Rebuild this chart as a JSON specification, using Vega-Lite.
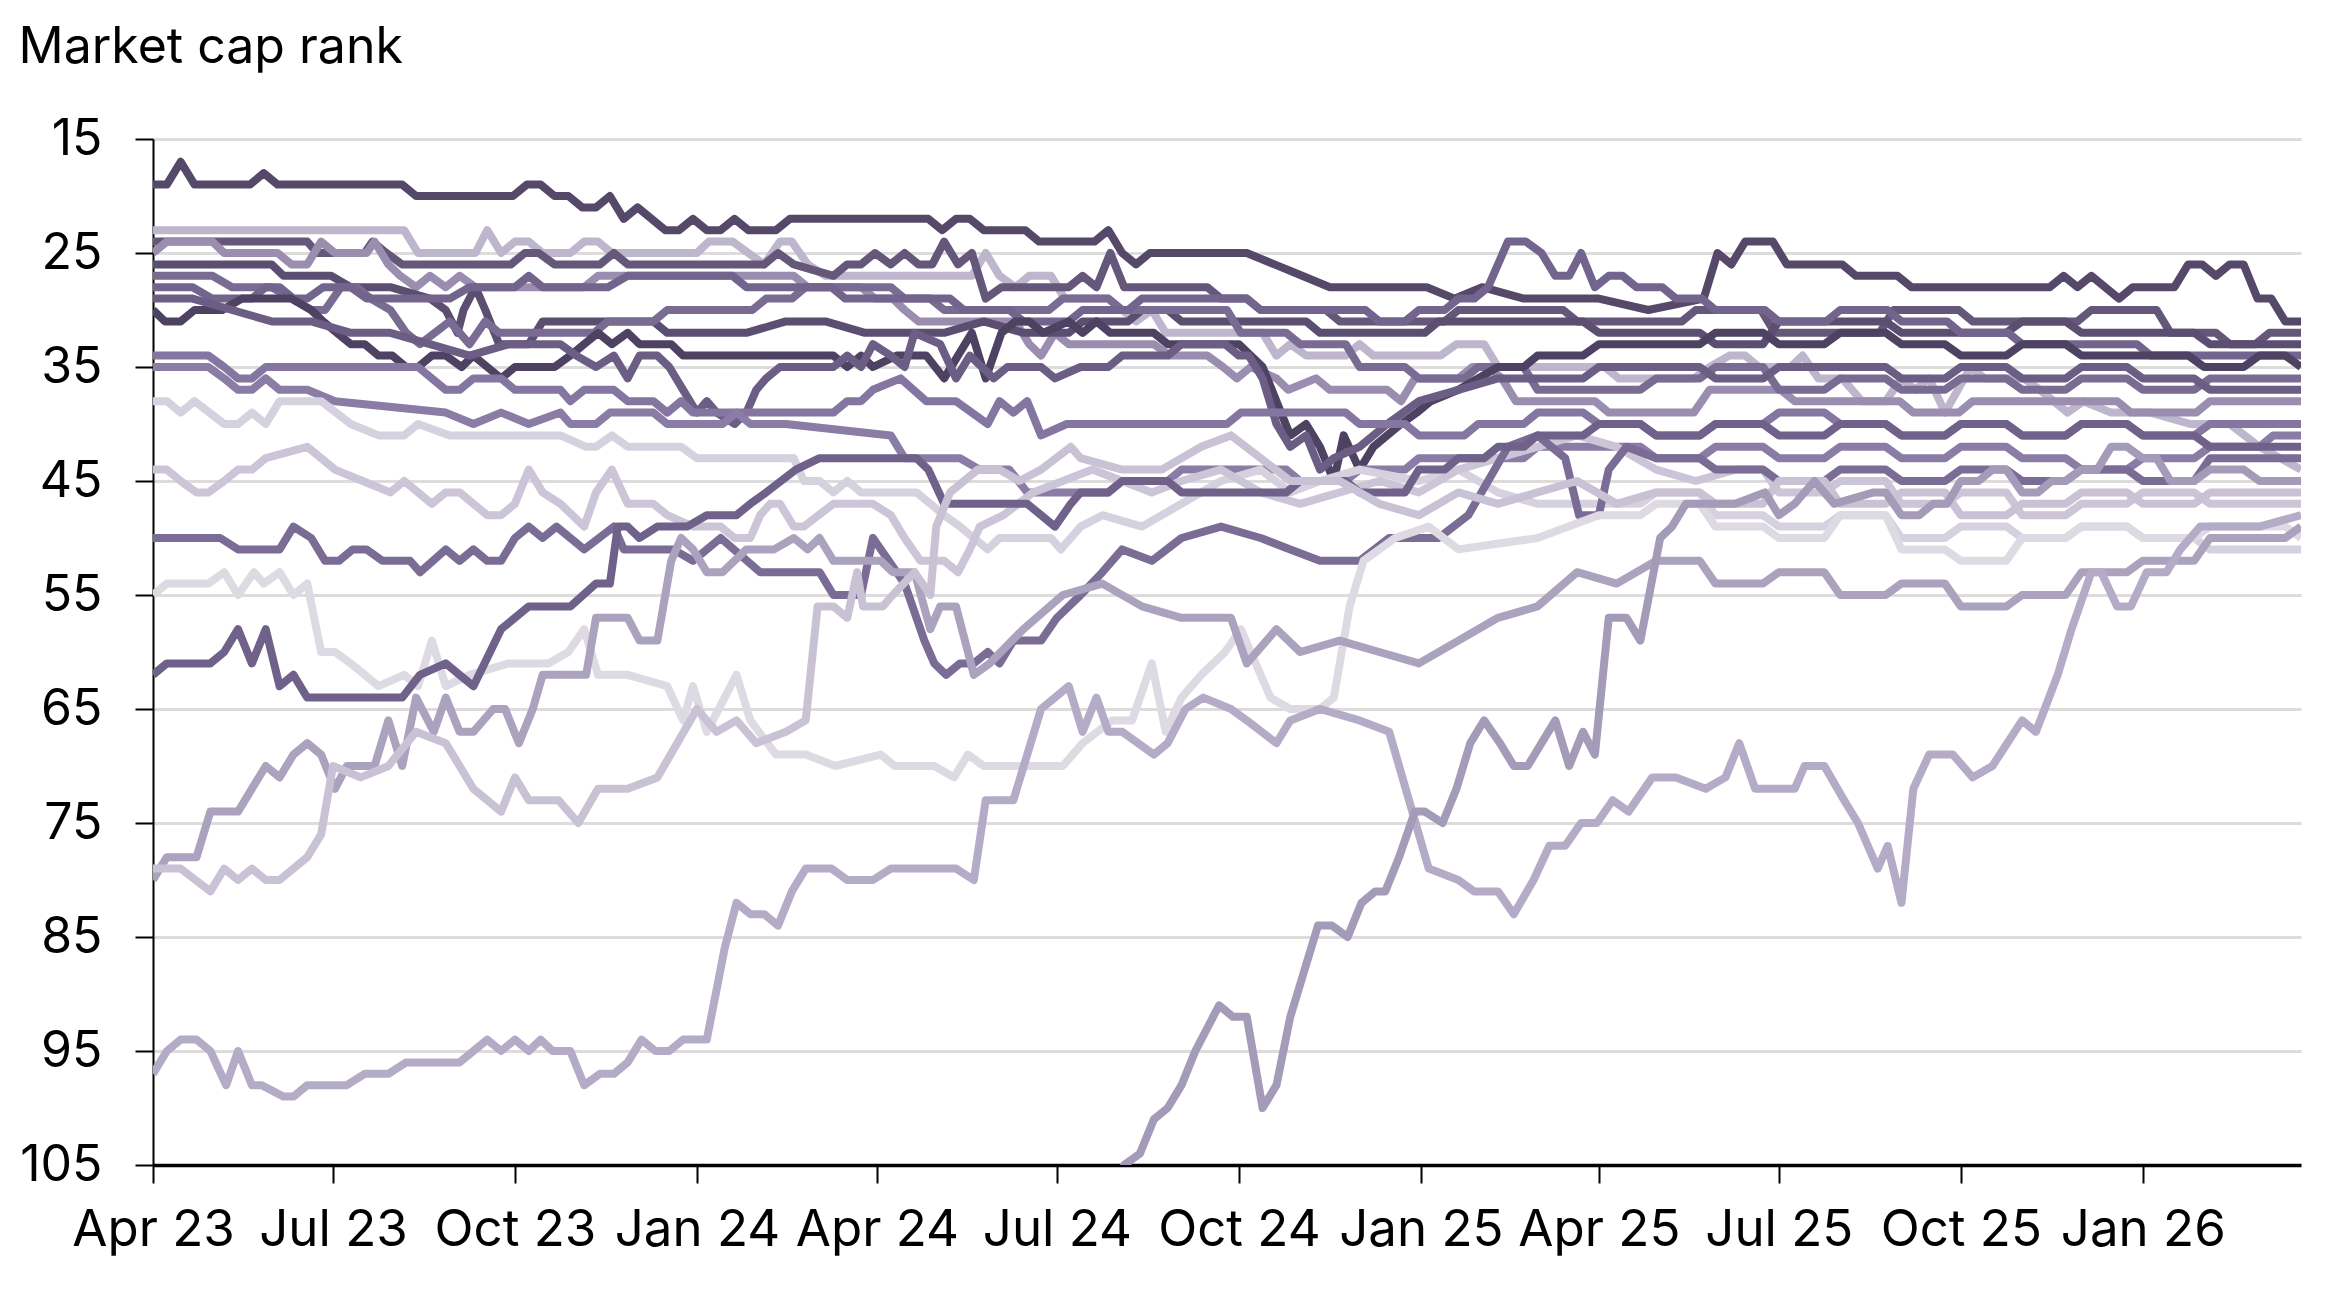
{
"$schema": "https://vega.github.io/schema/vega-lite/v6.json",
"width": 2148,
"height": 1026,
"autosize": {"type": "none"},
"padding": {"left": 153, "top": 139, "right": 38, "bottom": 134},
"background": "white",
"config": {"view": {"stroke": null}, "font": "Inter"},
"data": {"values": [
{"s":"a","t":"2023-04-01","r":19},{"s":"a","t":"2023-04-08","r":19},{"s":"a","t":"2023-04-15","r":17},{"s":"a","t":"2023-04-22","r":19},{"s":"a","t":"2023-05-20","r":19},{"s":"a","t":"2023-05-27","r":18},{"s":"a","t":"2023-06-03","r":19},{"s":"a","t":"2023-08-05","r":19},{"s":"a","t":"2023-08-12","r":20},{"s":"a","t":"2023-09-30","r":20},{"s":"a","t":"2023-10-07","r":19},{"s":"a","t":"2023-10-14","r":19},{"s":"a","t":"2023-10-21","r":20},{"s":"a","t":"2023-10-28","r":20},{"s":"a","t":"2023-11-04","r":21},{"s":"a","t":"2023-11-11","r":21},{"s":"a","t":"2023-11-18","r":20},{"s":"a","t":"2023-11-25","r":22},{"s":"a","t":"2023-12-02","r":21},{"s":"a","t":"2023-12-16","r":23},{"s":"a","t":"2023-12-23","r":23},{"s":"a","t":"2023-12-30","r":22},{"s":"a","t":"2024-01-06","r":23},{"s":"a","t":"2024-01-13","r":23},{"s":"a","t":"2024-01-20","r":22},{"s":"a","t":"2024-01-27","r":23},{"s":"a","t":"2024-02-10","r":23},{"s":"a","t":"2024-02-17","r":22},{"s":"a","t":"2024-04-27","r":22},{"s":"a","t":"2024-05-04","r":23},{"s":"a","t":"2024-05-11","r":22},{"s":"a","t":"2024-05-18","r":22},{"s":"a","t":"2024-05-25","r":23},{"s":"a","t":"2024-06-15","r":23},{"s":"a","t":"2024-06-22","r":24},{"s":"a","t":"2024-07-20","r":24},{"s":"a","t":"2024-07-27","r":23},{"s":"a","t":"2024-08-03","r":25},{"s":"a","t":"2024-08-10","r":26},{"s":"a","t":"2024-08-17","r":25},{"s":"a","t":"2024-10-05","r":25},{"s":"a","t":"2024-10-19","r":26},{"s":"a","t":"2024-11-02","r":27},{"s":"a","t":"2024-11-16","r":28},{"s":"a","t":"2025-01-04","r":28},{"s":"a","t":"2025-01-18","r":29},{"s":"a","t":"2025-02-01","r":28},{"s":"a","t":"2025-02-22","r":29},{"s":"a","t":"2025-04-01","r":29},{"s":"a","t":"2025-04-26","r":30},{"s":"a","t":"2025-05-24","r":29},{"s":"a","t":"2025-05-31","r":25},{"s":"a","t":"2025-06-07","r":26},{"s":"a","t":"2025-06-14","r":24},{"s":"a","t":"2025-06-28","r":24},{"s":"a","t":"2025-07-05","r":26},{"s":"a","t":"2025-08-02","r":26},{"s":"a","t":"2025-08-09","r":27},{"s":"a","t":"2025-08-30","r":27},{"s":"a","t":"2025-09-06","r":28},{"s":"a","t":"2025-11-15","r":28},{"s":"a","t":"2025-11-22","r":27},{"s":"a","t":"2025-11-29","r":28},{"s":"a","t":"2025-12-06","r":27},{"s":"a","t":"2025-12-20","r":29},{"s":"a","t":"2025-12-27","r":28},{"s":"a","t":"2026-01-17","r":28},{"s":"a","t":"2026-01-24","r":26},{"s":"a","t":"2026-01-31","r":26},{"s":"a","t":"2026-02-07","r":27},{"s":"a","t":"2026-02-14","r":26},{"s":"a","t":"2026-02-21","r":26},{"s":"a","t":"2026-02-28","r":29},{"s":"a","t":"2026-03-07","r":29},{"s":"a","t":"2026-03-14","r":31},{"s":"a","t":"2026-03-22","r":31},
{"s":"b","t":"2023-04-01","r":23},{"s":"b","t":"2023-08-06","r":23},{"s":"b","t":"2023-08-13","r":25},{"s":"b","t":"2023-09-11","r":25},{"s":"b","t":"2023-09-17","r":23},{"s":"b","t":"2023-09-24","r":25},{"s":"b","t":"2023-10-01","r":24},{"s":"b","t":"2023-10-08","r":24},{"s":"b","t":"2023-10-15","r":25},{"s":"b","t":"2023-10-29","r":25},{"s":"b","t":"2023-11-05","r":24},{"s":"b","t":"2023-11-12","r":24},{"s":"b","t":"2023-11-19","r":25},{"s":"b","t":"2024-01-01","r":25},{"s":"b","t":"2024-01-07","r":24},{"s":"b","t":"2024-01-19","r":24},{"s":"b","t":"2024-01-27","r":25},{"s":"b","t":"2024-02-04","r":26},{"s":"b","t":"2024-02-12","r":24},{"s":"b","t":"2024-02-18","r":24},{"s":"b","t":"2024-02-26","r":26},{"s":"b","t":"2024-03-06","r":27},{"s":"b","t":"2024-05-19","r":27},{"s":"b","t":"2024-05-26","r":25},{"s":"b","t":"2024-06-02","r":27},{"s":"b","t":"2024-06-10","r":28},{"s":"b","t":"2024-06-17","r":27},{"s":"b","t":"2024-06-28","r":27},{"s":"b","t":"2024-07-05","r":29},{"s":"b","t":"2024-07-27","r":29},{"s":"b","t":"2024-08-03","r":30},{"s":"b","t":"2024-08-10","r":31},{"s":"b","t":"2024-08-18","r":30},{"s":"b","t":"2024-08-25","r":32},{"s":"b","t":"2024-10-13","r":32},{"s":"b","t":"2024-10-20","r":34},{"s":"b","t":"2024-10-27","r":33},{"s":"b","t":"2024-11-04","r":34},{"s":"b","t":"2024-11-24","r":34},{"s":"b","t":"2024-12-01","r":33},{"s":"b","t":"2024-12-08","r":34},{"s":"b","t":"2025-01-11","r":34},{"s":"b","t":"2025-01-19","r":33},{"s":"b","t":"2025-02-02","r":33},{"s":"b","t":"2025-02-09","r":35},{"s":"b","t":"2025-04-04","r":35},{"s":"b","t":"2025-04-11","r":36},{"s":"b","t":"2025-05-19","r":36},{"s":"b","t":"2025-05-27","r":35},{"s":"b","t":"2025-06-06","r":34},{"s":"b","t":"2025-06-14","r":34},{"s":"b","t":"2025-06-21","r":35},{"s":"b","t":"2025-07-07","r":35},{"s":"b","t":"2025-07-13","r":34},{"s":"b","t":"2025-07-21","r":36},{"s":"b","t":"2025-08-02","r":36},{"s":"b","t":"2025-08-12","r":38},{"s":"b","t":"2025-08-24","r":38},{"s":"b","t":"2025-09-01","r":36},{"s":"b","t":"2025-09-08","r":37},{"s":"b","t":"2025-09-15","r":36},{"s":"b","t":"2025-09-23","r":39},{"s":"b","t":"2025-10-06","r":35},{"s":"b","t":"2025-10-13","r":36},{"s":"b","t":"2025-11-02","r":36},{"s":"b","t":"2025-11-10","r":37},{"s":"b","t":"2025-11-24","r":39},{"s":"b","t":"2025-12-02","r":38},{"s":"b","t":"2025-12-16","r":39},{"s":"b","t":"2026-01-05","r":39},{"s":"b","t":"2026-01-25","r":40},{"s":"b","t":"2026-02-14","r":40},{"s":"b","t":"2026-03-01","r":42},{"s":"b","t":"2026-03-22","r":44},
{"s":"c","t":"2023-04-01","r":24},{"s":"c","t":"2023-06-18","r":24},{"s":"c","t":"2023-06-23","r":25},{"s":"c","t":"2023-07-17","r":25},{"s":"c","t":"2023-07-21","r":24},{"s":"c","t":"2023-07-28","r":25},{"s":"c","t":"2023-08-05","r":26},{"s":"c","t":"2023-09-29","r":26},{"s":"c","t":"2023-10-06","r":25},{"s":"c","t":"2023-10-13","r":25},{"s":"c","t":"2023-10-21","r":26},{"s":"c","t":"2023-11-13","r":26},{"s":"c","t":"2023-11-20","r":25},{"s":"c","t":"2023-11-27","r":26},{"s":"c","t":"2024-02-04","r":26},{"s":"c","t":"2024-02-11","r":25},{"s":"c","t":"2024-02-19","r":26},{"s":"c","t":"2024-03-10","r":27},{"s":"c","t":"2024-03-17","r":26},{"s":"c","t":"2024-03-24","r":26},{"s":"c","t":"2024-03-31","r":25},{"s":"c","t":"2024-04-08","r":26},{"s":"c","t":"2024-04-15","r":25},{"s":"c","t":"2024-04-22","r":26},{"s":"c","t":"2024-04-29","r":26},{"s":"c","t":"2024-05-05","r":24},{"s":"c","t":"2024-05-12","r":26},{"s":"c","t":"2024-05-19","r":25},{"s":"c","t":"2024-05-26","r":29},{"s":"c","t":"2024-06-03","r":28},{"s":"c","t":"2024-07-07","r":28},{"s":"c","t":"2024-07-14","r":27},{"s":"c","t":"2024-07-21","r":28},{"s":"c","t":"2024-07-28","r":25},{"s":"c","t":"2024-08-04","r":28},{"s":"c","t":"2024-09-15","r":28},{"s":"c","t":"2024-09-22","r":29},{"s":"c","t":"2024-10-05","r":29},{"s":"c","t":"2024-10-12","r":30},{"s":"c","t":"2024-11-14","r":30},{"s":"c","t":"2024-11-21","r":31},{"s":"c","t":"2025-01-13","r":31},{"s":"c","t":"2025-01-20","r":30},{"s":"c","t":"2025-03-14","r":30},{"s":"c","t":"2025-03-21","r":31},{"s":"c","t":"2025-05-13","r":31},{"s":"c","t":"2025-05-20","r":30},{"s":"c","t":"2025-06-22","r":30},{"s":"c","t":"2025-06-29","r":32},{"s":"c","t":"2025-08-21","r":32},{"s":"c","t":"2025-08-28","r":30},{"s":"c","t":"2025-09-30","r":30},{"s":"c","t":"2025-10-07","r":31},{"s":"c","t":"2025-11-29","r":31},{"s":"c","t":"2025-12-06","r":30},{"s":"c","t":"2026-01-08","r":30},{"s":"c","t":"2026-01-15","r":32},{"s":"c","t":"2026-02-07","r":32},{"s":"c","t":"2026-02-14","r":33},{"s":"c","t":"2026-02-27","r":33},{"s":"c","t":"2026-03-06","r":32},{"s":"c","t":"2026-03-22","r":32},
{"s":"d","t":"2023-04-01","r":25},{"s":"d","t":"2023-04-08","r":24},{"s":"d","t":"2023-05-01","r":24},{"s":"d","t":"2023-05-07","r":25},{"s":"d","t":"2023-06-03","r":25},{"s":"d","t":"2023-06-10","r":26},{"s":"d","t":"2023-06-18","r":26},{"s":"d","t":"2023-06-25","r":24},{"s":"d","t":"2023-07-02","r":25},{"s":"d","t":"2023-07-18","r":25},{"s":"d","t":"2023-07-22","r":24},{"s":"d","t":"2023-07-29","r":26},{"s":"d","t":"2023-08-04","r":27},{"s":"d","t":"2023-08-12","r":28},{"s":"d","t":"2023-08-19","r":27},{"s":"d","t":"2023-08-27","r":28},{"s":"d","t":"2023-09-03","r":27},{"s":"d","t":"2023-09-11","r":28},{"s":"d","t":"2023-11-05","r":28},{"s":"d","t":"2023-11-12","r":27},{"s":"d","t":"2024-02-19","r":27},{"s":"d","t":"2024-02-26","r":28},{"s":"d","t":"2024-03-24","r":28},{"s":"d","t":"2024-03-31","r":29},{"s":"d","t":"2024-04-09","r":29},{"s":"d","t":"2024-04-15","r":30},{"s":"d","t":"2024-04-22","r":31},{"s":"d","t":"2024-06-10","r":31},{"s":"d","t":"2024-06-17","r":33},{"s":"d","t":"2024-06-23","r":34},{"s":"d","t":"2024-06-30","r":32},{"s":"d","t":"2024-07-07","r":33},{"s":"d","t":"2024-08-19","r":33},{"s":"d","t":"2024-08-27","r":34},{"s":"d","t":"2024-09-15","r":34},{"s":"d","t":"2024-09-23","r":35},{"s":"d","t":"2024-09-30","r":36},{"s":"d","t":"2024-10-07","r":35},{"s":"d","t":"2024-10-20","r":36},{"s":"d","t":"2024-10-26","r":37},{"s":"d","t":"2024-11-09","r":36},{"s":"d","t":"2024-11-16","r":37},{"s":"d","t":"2024-12-15","r":37},{"s":"d","t":"2024-12-22","r":38},{"s":"d","t":"2024-12-29","r":36},{"s":"d","t":"2025-01-20","r":36},{"s":"d","t":"2025-01-27","r":35},{"s":"d","t":"2025-02-04","r":35},{"s":"d","t":"2025-02-11","r":36},{"s":"d","t":"2025-02-18","r":38},{"s":"d","t":"2025-03-30","r":38},{"s":"d","t":"2025-04-06","r":39},{"s":"d","t":"2025-05-19","r":39},{"s":"d","t":"2025-05-27","r":37},{"s":"d","t":"2025-07-02","r":37},{"s":"d","t":"2025-07-09","r":38},{"s":"d","t":"2025-08-31","r":38},{"s":"d","t":"2025-09-07","r":39},{"s":"d","t":"2025-09-30","r":39},{"s":"d","t":"2025-10-07","r":38},{"s":"d","t":"2025-12-19","r":38},{"s":"d","t":"2025-12-26","r":39},{"s":"d","t":"2026-01-28","r":39},{"s":"d","t":"2026-02-04","r":38},{"s":"d","t":"2026-03-22","r":38},
{"s":"e","t":"2023-04-01","r":26},{"s":"e","t":"2023-05-31","r":26},{"s":"e","t":"2023-06-06","r":27},{"s":"e","t":"2023-06-30","r":27},{"s":"e","t":"2023-07-10","r":28},{"s":"e","t":"2023-07-30","r":28},{"s":"e","t":"2023-08-19","r":29},{"s":"e","t":"2023-08-27","r":30},{"s":"e","t":"2023-09-02","r":32},{"s":"e","t":"2023-09-05","r":30},{"s":"e","t":"2023-09-11","r":28},{"s":"e","t":"2023-09-16","r":30},{"s":"e","t":"2023-09-23","r":33},{"s":"e","t":"2023-10-08","r":33},{"s":"e","t":"2023-10-15","r":31},{"s":"e","t":"2023-12-10","r":31},{"s":"e","t":"2023-12-17","r":32},{"s":"e","t":"2024-01-26","r":32},{"s":"e","t":"2024-02-15","r":31},{"s":"e","t":"2024-03-06","r":31},{"s":"e","t":"2024-03-26","r":32},{"s":"e","t":"2024-05-05","r":32},{"s":"e","t":"2024-05-25","r":31},{"s":"e","t":"2024-06-14","r":32},{"s":"e","t":"2024-07-07","r":32},{"s":"e","t":"2024-07-14","r":31},{"s":"e","t":"2024-08-06","r":31},{"s":"e","t":"2024-08-13","r":30},{"s":"e","t":"2024-08-26","r":30},{"s":"e","t":"2024-09-02","r":31},{"s":"e","t":"2024-11-04","r":31},{"s":"e","t":"2024-11-11","r":32},{"s":"e","t":"2025-01-03","r":32},{"s":"e","t":"2025-01-10","r":31},{"s":"e","t":"2025-03-24","r":31},{"s":"e","t":"2025-04-01","r":32},{"s":"e","t":"2025-05-22","r":32},{"s":"e","t":"2025-05-30","r":33},{"s":"e","t":"2025-06-23","r":33},{"s":"e","t":"2025-07-01","r":31},{"s":"e","t":"2025-08-24","r":31},{"s":"e","t":"2025-09-01","r":32},{"s":"e","t":"2025-10-24","r":32},{"s":"e","t":"2025-11-01","r":31},{"s":"e","t":"2025-11-23","r":31},{"s":"e","t":"2025-12-01","r":32},{"s":"e","t":"2026-01-27","r":32},{"s":"e","t":"2026-02-04","r":33},{"s":"e","t":"2026-03-22","r":33},
{"s":"f","t":"2023-04-01","r":27},{"s":"f","t":"2023-05-01","r":27},{"s":"f","t":"2023-05-11","r":28},{"s":"f","t":"2023-05-31","r":28},{"s":"f","t":"2023-06-10","r":29},{"s":"f","t":"2023-06-20","r":30},{"s":"f","t":"2023-06-27","r":30},{"s":"f","t":"2023-07-05","r":28},{"s":"f","t":"2023-07-13","r":28},{"s":"f","t":"2023-07-20","r":29},{"s":"f","t":"2023-07-30","r":30},{"s":"f","t":"2023-08-07","r":32},{"s":"f","t":"2023-08-14","r":33},{"s":"f","t":"2023-08-29","r":31},{"s":"f","t":"2023-09-08","r":33},{"s":"f","t":"2023-09-16","r":31},{"s":"f","t":"2023-09-23","r":32},{"s":"f","t":"2023-11-10","r":32},{"s":"f","t":"2023-11-17","r":31},{"s":"f","t":"2023-12-10","r":31},{"s":"f","t":"2023-12-17","r":30},{"s":"f","t":"2024-01-29","r":30},{"s":"f","t":"2024-02-05","r":29},{"s":"f","t":"2024-02-18","r":29},{"s":"f","t":"2024-02-25","r":28},{"s":"f","t":"2024-04-08","r":28},{"s":"f","t":"2024-04-15","r":29},{"s":"f","t":"2024-04-28","r":29},{"s":"f","t":"2024-05-05","r":30},{"s":"f","t":"2024-06-27","r":30},{"s":"f","t":"2024-07-04","r":29},{"s":"f","t":"2024-07-27","r":29},{"s":"f","t":"2024-08-03","r":30},{"s":"f","t":"2024-09-25","r":30},{"s":"f","t":"2024-10-02","r":32},{"s":"f","t":"2024-10-25","r":32},{"s":"f","t":"2024-11-01","r":33},{"s":"f","t":"2024-11-24","r":33},{"s":"f","t":"2024-12-01","r":35},{"s":"f","t":"2024-12-24","r":35},{"s":"f","t":"2024-12-31","r":36},{"s":"f","t":"2025-01-23","r":36},{"s":"f","t":"2025-01-30","r":35},{"s":"f","t":"2025-02-22","r":35},{"s":"f","t":"2025-03-01","r":37},{"s":"f","t":"2025-04-22","r":37},{"s":"f","t":"2025-04-30","r":36},{"s":"f","t":"2025-05-22","r":36},{"s":"f","t":"2025-05-30","r":35},{"s":"f","t":"2025-06-23","r":35},{"s":"f","t":"2025-07-01","r":37},{"s":"f","t":"2025-07-24","r":37},{"s":"f","t":"2025-08-01","r":36},{"s":"f","t":"2025-08-24","r":36},{"s":"f","t":"2025-09-01","r":37},{"s":"f","t":"2025-09-23","r":37},{"s":"f","t":"2025-10-01","r":36},{"s":"f","t":"2025-10-24","r":36},{"s":"f","t":"2025-11-01","r":37},{"s":"f","t":"2025-11-23","r":37},{"s":"f","t":"2025-12-01","r":36},{"s":"f","t":"2025-12-24","r":36},{"s":"f","t":"2026-01-01","r":37},{"s":"f","t":"2026-01-27","r":37},{"s":"f","t":"2026-02-04","r":36},{"s":"f","t":"2026-03-22","r":36},
{"s":"g","t":"2023-04-01","r":28},{"s":"g","t":"2023-04-21","r":28},{"s":"g","t":"2023-05-01","r":29},{"s":"g","t":"2023-05-21","r":29},{"s":"g","t":"2023-05-28","r":28},{"s":"g","t":"2023-06-04","r":28},{"s":"g","t":"2023-06-11","r":29},{"s":"g","t":"2023-06-18","r":29},{"s":"g","t":"2023-06-26","r":28},{"s":"g","t":"2023-07-10","r":28},{"s":"g","t":"2023-07-18","r":29},{"s":"g","t":"2023-08-29","r":29},{"s":"g","t":"2023-09-08","r":28},{"s":"g","t":"2023-10-01","r":28},{"s":"g","t":"2023-10-08","r":27},{"s":"g","t":"2023-10-15","r":28},{"s":"g","t":"2023-11-17","r":28},{"s":"g","t":"2023-11-27","r":27},{"s":"g","t":"2024-01-19","r":27},{"s":"g","t":"2024-01-26","r":28},{"s":"g","t":"2024-03-09","r":28},{"s":"g","t":"2024-03-16","r":29},{"s":"g","t":"2024-05-08","r":29},{"s":"g","t":"2024-05-15","r":30},{"s":"g","t":"2024-06-07","r":30},{"s":"g","t":"2024-06-14","r":31},{"s":"g","t":"2024-07-07","r":31},{"s":"g","t":"2024-07-14","r":30},{"s":"g","t":"2024-08-06","r":30},{"s":"g","t":"2024-08-13","r":29},{"s":"g","t":"2024-10-05","r":29},{"s":"g","t":"2024-10-12","r":30},{"s":"g","t":"2024-12-04","r":30},{"s":"g","t":"2024-12-11","r":31},{"s":"g","t":"2024-12-24","r":31},{"s":"g","t":"2024-12-31","r":30},{"s":"g","t":"2025-01-13","r":30},{"s":"g","t":"2025-01-20","r":29},{"s":"g","t":"2025-01-28","r":29},{"s":"g","t":"2025-02-04","r":28},{"s":"g","t":"2025-02-14","r":24},{"s":"g","t":"2025-02-23","r":24},{"s":"g","t":"2025-03-03","r":25},{"s":"g","t":"2025-03-10","r":27},{"s":"g","t":"2025-03-17","r":27},{"s":"g","t":"2025-03-23","r":25},{"s":"g","t":"2025-03-30","r":28},{"s":"g","t":"2025-04-06","r":27},{"s":"g","t":"2025-04-13","r":27},{"s":"g","t":"2025-04-20","r":28},{"s":"g","t":"2025-05-03","r":28},{"s":"g","t":"2025-05-10","r":29},{"s":"g","t":"2025-05-23","r":29},{"s":"g","t":"2025-05-30","r":30},{"s":"g","t":"2025-06-24","r":30},{"s":"g","t":"2025-07-01","r":31},{"s":"g","t":"2025-07-25","r":31},{"s":"g","t":"2025-08-01","r":30},{"s":"g","t":"2025-08-25","r":30},{"s":"g","t":"2025-09-01","r":31},{"s":"g","t":"2025-09-24","r":31},{"s":"g","t":"2025-10-01","r":32},{"s":"g","t":"2025-10-25","r":32},{"s":"g","t":"2025-11-01","r":33},{"s":"g","t":"2025-12-29","r":33},{"s":"g","t":"2026-01-05","r":34},{"s":"g","t":"2026-03-22","r":34},
{"s":"h","t":"2023-04-01","r":30},{"s":"h","t":"2023-04-07","r":31},{"s":"h","t":"2023-04-15","r":31},{"s":"h","t":"2023-04-22","r":30},{"s":"h","t":"2023-05-06","r":30},{"s":"h","t":"2023-05-16","r":29},{"s":"h","t":"2023-06-10","r":29},{"s":"h","t":"2023-06-20","r":30},{"s":"h","t":"2023-06-26","r":31},{"s":"h","t":"2023-07-03","r":32},{"s":"h","t":"2023-07-10","r":33},{"s":"h","t":"2023-07-17","r":33},{"s":"h","t":"2023-07-24","r":34},{"s":"h","t":"2023-07-31","r":34},{"s":"h","t":"2023-08-07","r":35},{"s":"h","t":"2023-08-13","r":35},{"s":"h","t":"2023-08-20","r":34},{"s":"h","t":"2023-08-27","r":34},{"s":"h","t":"2023-09-04","r":35},{"s":"h","t":"2023-09-10","r":34},{"s":"h","t":"2023-09-17","r":35},{"s":"h","t":"2023-09-24","r":36},{"s":"h","t":"2023-10-01","r":35},{"s":"h","t":"2023-10-21","r":35},{"s":"h","t":"2023-10-29","r":34},{"s":"h","t":"2023-11-05","r":33},{"s":"h","t":"2023-11-12","r":32},{"s":"h","t":"2023-11-19","r":33},{"s":"h","t":"2023-11-27","r":32},{"s":"h","t":"2023-12-03","r":33},{"s":"h","t":"2023-12-19","r":33},{"s":"h","t":"2023-12-25","r":34},{"s":"h","t":"2024-03-10","r":34},{"s":"h","t":"2024-03-17","r":35},{"s":"h","t":"2024-03-24","r":34},{"s":"h","t":"2024-03-30","r":35},{"s":"h","t":"2024-04-11","r":34},{"s":"h","t":"2024-04-26","r":34},{"s":"h","t":"2024-05-05","r":36},{"s":"h","t":"2024-05-12","r":34},{"s":"h","t":"2024-05-19","r":32},{"s":"h","t":"2024-05-26","r":36},{"s":"h","t":"2024-06-03","r":32},{"s":"h","t":"2024-06-10","r":31},{"s":"h","t":"2024-06-17","r":31},{"s":"h","t":"2024-06-24","r":32},{"s":"h","t":"2024-07-07","r":31},{"s":"h","t":"2024-07-14","r":32},{"s":"h","t":"2024-07-21","r":31},{"s":"h","t":"2024-07-28","r":32},{"s":"h","t":"2024-08-19","r":32},{"s":"h","t":"2024-08-26","r":33},{"s":"h","t":"2024-10-01","r":33},{"s":"h","t":"2024-10-13","r":35},{"s":"h","t":"2024-10-20","r":38},{"s":"h","t":"2024-10-27","r":41},{"s":"h","t":"2024-11-04","r":40},{"s":"h","t":"2024-11-11","r":42},{"s":"h","t":"2024-11-18","r":45},{"s":"h","t":"2024-11-23","r":41},{"s":"h","t":"2024-12-01","r":44},{"s":"h","t":"2024-12-08","r":42},{"s":"h","t":"2024-12-15","r":41},{"s":"h","t":"2024-12-22","r":40},{"s":"h","t":"2024-12-30","r":39},{"s":"h","t":"2025-01-06","r":38},{"s":"h","t":"2025-01-20","r":37},{"s":"h","t":"2025-02-09","r":35},{"s":"h","t":"2025-02-22","r":35},{"s":"h","t":"2025-03-01","r":34},{"s":"h","t":"2025-03-24","r":34},{"s":"h","t":"2025-04-01","r":33},{"s":"h","t":"2025-05-22","r":33},{"s":"h","t":"2025-05-30","r":32},{"s":"h","t":"2025-06-23","r":32},{"s":"h","t":"2025-07-01","r":33},{"s":"h","t":"2025-07-24","r":33},{"s":"h","t":"2025-08-01","r":32},{"s":"h","t":"2025-08-24","r":32},{"s":"h","t":"2025-09-01","r":33},{"s":"h","t":"2025-09-23","r":33},{"s":"h","t":"2025-10-01","r":34},{"s":"h","t":"2025-10-24","r":34},{"s":"h","t":"2025-11-01","r":33},{"s":"h","t":"2025-11-23","r":33},{"s":"h","t":"2025-12-01","r":34},{"s":"h","t":"2026-01-24","r":34},{"s":"h","t":"2026-02-01","r":35},{"s":"h","t":"2026-02-21","r":35},{"s":"h","t":"2026-03-01","r":34},{"s":"h","t":"2026-03-14","r":34},{"s":"h","t":"2026-03-22","r":35},
{"s":"i","t":"2023-04-01","r":29},{"s":"i","t":"2023-04-21","r":29},{"s":"i","t":"2023-05-11","r":30},{"s":"i","t":"2023-05-31","r":31},{"s":"i","t":"2023-06-20","r":31},{"s":"i","t":"2023-07-10","r":32},{"s":"i","t":"2023-07-30","r":32},{"s":"i","t":"2023-08-19","r":33},{"s":"i","t":"2023-09-08","r":34},{"s":"i","t":"2023-09-28","r":33},{"s":"i","t":"2023-10-24","r":33},{"s":"i","t":"2023-11-01","r":34},{"s":"i","t":"2023-11-11","r":35},{"s":"i","t":"2023-11-20","r":34},{"s":"i","t":"2023-11-27","r":36},{"s":"i","t":"2023-12-03","r":34},{"s":"i","t":"2023-12-12","r":34},{"s":"i","t":"2023-12-18","r":35},{"s":"i","t":"2023-12-25","r":37},{"s":"i","t":"2024-01-01","r":39},{"s":"i","t":"2024-01-06","r":38},{"s":"i","t":"2024-01-11","r":39},{"s":"i","t":"2024-01-20","r":40},{"s":"i","t":"2024-01-26","r":39},{"s":"i","t":"2024-01-31","r":37},{"s":"i","t":"2024-02-05","r":36},{"s":"i","t":"2024-02-12","r":35},{"s":"i","t":"2024-03-10","r":35},{"s":"i","t":"2024-03-17","r":34},{"s":"i","t":"2024-03-24","r":35},{"s":"i","t":"2024-03-30","r":33},{"s":"i","t":"2024-04-08","r":34},{"s":"i","t":"2024-04-15","r":35},{"s":"i","t":"2024-04-20","r":32},{"s":"i","t":"2024-05-03","r":33},{"s":"i","t":"2024-05-11","r":36},{"s":"i","t":"2024-05-18","r":34},{"s":"i","t":"2024-05-30","r":36},{"s":"i","t":"2024-06-06","r":35},{"s":"i","t":"2024-06-23","r":35},{"s":"i","t":"2024-06-30","r":36},{"s":"i","t":"2024-07-13","r":35},{"s":"i","t":"2024-07-27","r":35},{"s":"i","t":"2024-08-03","r":34},{"s":"i","t":"2024-08-26","r":34},{"s":"i","t":"2024-09-02","r":33},{"s":"i","t":"2024-09-24","r":33},{"s":"i","t":"2024-10-01","r":34},{"s":"i","t":"2024-10-06","r":34},{"s":"i","t":"2024-10-13","r":36},{"s":"i","t":"2024-10-20","r":40},{"s":"i","t":"2024-10-27","r":42},{"s":"i","t":"2024-11-04","r":41},{"s":"i","t":"2024-11-11","r":44},{"s":"i","t":"2024-11-18","r":43},{"s":"i","t":"2024-12-01","r":42},{"s":"i","t":"2024-12-15","r":40},{"s":"i","t":"2024-12-31","r":38},{"s":"i","t":"2025-01-20","r":37},{"s":"i","t":"2025-02-09","r":36},{"s":"i","t":"2025-03-24","r":36},{"s":"i","t":"2025-04-01","r":35},{"s":"i","t":"2025-05-22","r":35},{"s":"i","t":"2025-05-30","r":36},{"s":"i","t":"2025-06-23","r":36},{"s":"i","t":"2025-07-01","r":35},{"s":"i","t":"2025-08-24","r":35},{"s":"i","t":"2025-09-01","r":36},{"s":"i","t":"2025-09-23","r":36},{"s":"i","t":"2025-10-01","r":35},{"s":"i","t":"2025-10-24","r":35},{"s":"i","t":"2025-11-01","r":36},{"s":"i","t":"2025-11-23","r":36},{"s":"i","t":"2025-12-01","r":35},{"s":"i","t":"2025-12-24","r":35},{"s":"i","t":"2026-01-01","r":36},{"s":"i","t":"2026-01-27","r":36},{"s":"i","t":"2026-02-04","r":37},{"s":"i","t":"2026-03-22","r":37},
{"s":"j","t":"2023-04-01","r":34},{"s":"j","t":"2023-04-29","r":34},{"s":"j","t":"2023-05-07","r":35},{"s":"j","t":"2023-05-14","r":36},{"s":"j","t":"2023-05-21","r":36},{"s":"j","t":"2023-05-28","r":35},{"s":"j","t":"2023-06-04","r":35},{"s":"j","t":"2023-08-13","r":35},{"s":"j","t":"2023-08-27","r":37},{"s":"j","t":"2023-09-03","r":37},{"s":"j","t":"2023-09-10","r":36},{"s":"j","t":"2023-09-24","r":36},{"s":"j","t":"2023-10-01","r":37},{"s":"j","t":"2023-10-24","r":37},{"s":"j","t":"2023-10-29","r":38},{"s":"j","t":"2023-11-05","r":37},{"s":"j","t":"2023-11-20","r":37},{"s":"j","t":"2023-11-27","r":38},{"s":"j","t":"2023-12-10","r":38},{"s":"j","t":"2023-12-17","r":39},{"s":"j","t":"2023-12-24","r":38},{"s":"j","t":"2023-12-30","r":39},{"s":"j","t":"2024-02-02","r":39},{"s":"j","t":"2024-03-10","r":39},{"s":"j","t":"2024-03-17","r":38},{"s":"j","t":"2024-03-24","r":38},{"s":"j","t":"2024-03-30","r":37},{"s":"j","t":"2024-04-13","r":36},{"s":"j","t":"2024-04-26","r":38},{"s":"j","t":"2024-05-11","r":38},{"s":"j","t":"2024-05-27","r":40},{"s":"j","t":"2024-06-02","r":38},{"s":"j","t":"2024-06-09","r":39},{"s":"j","t":"2024-06-16","r":38},{"s":"j","t":"2024-06-23","r":41},{"s":"j","t":"2024-07-06","r":40},{"s":"j","t":"2024-09-25","r":40},{"s":"j","t":"2024-10-02","r":39},{"s":"j","t":"2024-11-24","r":39},{"s":"j","t":"2024-12-01","r":40},{"s":"j","t":"2024-12-24","r":40},{"s":"j","t":"2024-12-31","r":41},{"s":"j","t":"2025-01-23","r":41},{"s":"j","t":"2025-01-30","r":40},{"s":"j","t":"2025-02-22","r":40},{"s":"j","t":"2025-03-01","r":39},{"s":"j","t":"2025-03-24","r":39},{"s":"j","t":"2025-04-01","r":40},{"s":"j","t":"2025-04-22","r":40},{"s":"j","t":"2025-04-30","r":41},{"s":"j","t":"2025-05-22","r":41},{"s":"j","t":"2025-05-30","r":40},{"s":"j","t":"2025-06-23","r":40},{"s":"j","t":"2025-07-01","r":39},{"s":"j","t":"2025-07-24","r":39},{"s":"j","t":"2025-08-01","r":40},{"s":"j","t":"2025-08-24","r":40},{"s":"j","t":"2025-09-01","r":41},{"s":"j","t":"2025-09-23","r":41},{"s":"j","t":"2025-10-01","r":40},{"s":"j","t":"2025-10-24","r":40},{"s":"j","t":"2025-11-01","r":41},{"s":"j","t":"2025-11-23","r":41},{"s":"j","t":"2025-12-01","r":40},{"s":"j","t":"2025-12-24","r":40},{"s":"j","t":"2026-01-01","r":41},{"s":"j","t":"2026-01-27","r":41},{"s":"j","t":"2026-02-04","r":40},{"s":"j","t":"2026-03-22","r":40},
{"s":"k","t":"2023-04-01","r":35},{"s":"k","t":"2023-04-29","r":35},{"s":"k","t":"2023-05-07","r":36},{"s":"k","t":"2023-05-14","r":37},{"s":"k","t":"2023-05-21","r":37},{"s":"k","t":"2023-05-28","r":36},{"s":"k","t":"2023-06-04","r":37},{"s":"k","t":"2023-06-18","r":37},{"s":"k","t":"2023-07-02","r":38},{"s":"k","t":"2023-08-27","r":39},{"s":"k","t":"2023-09-10","r":40},{"s":"k","t":"2023-09-24","r":39},{"s":"k","t":"2023-10-08","r":40},{"s":"k","t":"2023-10-24","r":39},{"s":"k","t":"2023-10-29","r":40},{"s":"k","t":"2023-11-11","r":40},{"s":"k","t":"2023-11-18","r":39},{"s":"k","t":"2023-12-10","r":39},{"s":"k","t":"2023-12-17","r":40},{"s":"k","t":"2024-01-14","r":40},{"s":"k","t":"2024-01-21","r":39},{"s":"k","t":"2024-01-28","r":40},{"s":"k","t":"2024-02-15","r":40},{"s":"k","t":"2024-04-08","r":41},{"s":"k","t":"2024-04-15","r":43},{"s":"k","t":"2024-05-13","r":43},{"s":"k","t":"2024-05-23","r":44},{"s":"k","t":"2024-06-07","r":44},{"s":"k","t":"2024-06-16","r":46},{"s":"k","t":"2024-07-27","r":46},{"s":"k","t":"2024-08-03","r":45},{"s":"k","t":"2024-08-26","r":45},{"s":"k","t":"2024-09-02","r":44},{"s":"k","t":"2024-10-25","r":44},{"s":"k","t":"2024-11-01","r":45},{"s":"k","t":"2024-11-24","r":45},{"s":"k","t":"2024-12-01","r":44},{"s":"k","t":"2024-12-24","r":44},{"s":"k","t":"2024-12-31","r":43},{"s":"k","t":"2025-02-22","r":43},{"s":"k","t":"2025-03-01","r":42},{"s":"k","t":"2025-04-22","r":42},{"s":"k","t":"2025-04-30","r":43},{"s":"k","t":"2025-05-22","r":43},{"s":"k","t":"2025-05-30","r":42},{"s":"k","t":"2025-06-23","r":42},{"s":"k","t":"2025-07-01","r":43},{"s":"k","t":"2025-07-24","r":43},{"s":"k","t":"2025-08-01","r":42},{"s":"k","t":"2025-08-24","r":42},{"s":"k","t":"2025-09-01","r":43},{"s":"k","t":"2025-09-23","r":43},{"s":"k","t":"2025-10-01","r":42},{"s":"k","t":"2025-10-24","r":42},{"s":"k","t":"2025-11-01","r":43},{"s":"k","t":"2025-11-23","r":43},{"s":"k","t":"2025-12-01","r":44},{"s":"k","t":"2025-12-24","r":44},{"s":"k","t":"2026-01-01","r":43},{"s":"k","t":"2026-01-27","r":43},{"s":"k","t":"2026-02-04","r":42},{"s":"k","t":"2026-03-01","r":42},{"s":"k","t":"2026-03-08","r":41},{"s":"k","t":"2026-03-22","r":41},
{"s":"l","t":"2023-04-01","r":38},{"s":"l","t":"2023-04-08","r":38},{"s":"l","t":"2023-04-15","r":39},{"s":"l","t":"2023-04-22","r":38},{"s":"l","t":"2023-05-07","r":40},{"s":"l","t":"2023-05-14","r":40},{"s":"l","t":"2023-05-21","r":39},{"s":"l","t":"2023-05-28","r":40},{"s":"l","t":"2023-06-04","r":38},{"s":"l","t":"2023-06-25","r":38},{"s":"l","t":"2023-07-10","r":40},{"s":"l","t":"2023-07-24","r":41},{"s":"l","t":"2023-08-06","r":41},{"s":"l","t":"2023-08-13","r":40},{"s":"l","t":"2023-08-29","r":41},{"s":"l","t":"2023-10-24","r":41},{"s":"l","t":"2023-11-06","r":42},{"s":"l","t":"2023-11-11","r":42},{"s":"l","t":"2023-11-19","r":41},{"s":"l","t":"2023-11-27","r":42},{"s":"l","t":"2023-12-24","r":42},{"s":"l","t":"2024-01-01","r":43},{"s":"l","t":"2024-02-19","r":43},{"s":"l","t":"2024-02-24","r":45},{"s":"l","t":"2024-03-03","r":45},{"s":"l","t":"2024-03-10","r":46},{"s":"l","t":"2024-03-17","r":45},{"s":"l","t":"2024-03-24","r":46},{"s":"l","t":"2024-04-21","r":46},{"s":"l","t":"2024-05-05","r":48},{"s":"l","t":"2024-05-13","r":49},{"s":"l","t":"2024-05-20","r":50},{"s":"l","t":"2024-05-27","r":51},{"s":"l","t":"2024-06-02","r":50},{"s":"l","t":"2024-06-28","r":50},{"s":"l","t":"2024-07-03","r":51},{"s":"l","t":"2024-07-13","r":49},{"s":"l","t":"2024-07-24","r":48},{"s":"l","t":"2024-08-13","r":49},{"s":"l","t":"2024-09-02","r":47},{"s":"l","t":"2024-09-22","r":45},{"s":"l","t":"2024-10-12","r":44},{"s":"l","t":"2024-10-27","r":46},{"s":"l","t":"2024-11-11","r":45},{"s":"l","t":"2024-12-01","r":44},{"s":"l","t":"2024-12-31","r":45},{"s":"l","t":"2025-01-20","r":44},{"s":"l","t":"2025-02-09","r":46},{"s":"l","t":"2025-03-01","r":47},{"s":"l","t":"2025-04-22","r":47},{"s":"l","t":"2025-04-30","r":46},{"s":"l","t":"2025-05-22","r":46},{"s":"l","t":"2025-05-30","r":48},{"s":"l","t":"2025-06-23","r":48},{"s":"l","t":"2025-07-01","r":49},{"s":"l","t":"2025-07-24","r":49},{"s":"l","t":"2025-08-01","r":48},{"s":"l","t":"2025-08-24","r":48},{"s":"l","t":"2025-09-01","r":50},{"s":"l","t":"2025-09-23","r":50},{"s":"l","t":"2025-10-01","r":49},{"s":"l","t":"2025-10-24","r":49},{"s":"l","t":"2025-11-01","r":50},{"s":"l","t":"2025-11-23","r":50},{"s":"l","t":"2025-12-01","r":49},{"s":"l","t":"2025-12-24","r":49},{"s":"l","t":"2026-01-01","r":50},{"s":"l","t":"2026-01-27","r":50},{"s":"l","t":"2026-02-04","r":51},{"s":"l","t":"2026-03-22","r":51},
{"s":"m","t":"2023-04-01","r":44},{"s":"m","t":"2023-04-08","r":44},{"s":"m","t":"2023-04-15","r":45},{"s":"m","t":"2023-04-23","r":46},{"s":"m","t":"2023-04-29","r":46},{"s":"m","t":"2023-05-07","r":45},{"s":"m","t":"2023-05-14","r":44},{"s":"m","t":"2023-05-21","r":44},{"s":"m","t":"2023-05-28","r":43},{"s":"m","t":"2023-06-18","r":42},{"s":"m","t":"2023-06-25","r":43},{"s":"m","t":"2023-07-02","r":44},{"s":"m","t":"2023-07-16","r":45},{"s":"m","t":"2023-07-30","r":46},{"s":"m","t":"2023-08-06","r":45},{"s":"m","t":"2023-08-13","r":46},{"s":"m","t":"2023-08-20","r":47},{"s":"m","t":"2023-08-27","r":46},{"s":"m","t":"2023-09-03","r":46},{"s":"m","t":"2023-09-10","r":47},{"s":"m","t":"2023-09-17","r":48},{"s":"m","t":"2023-09-24","r":48},{"s":"m","t":"2023-10-01","r":47},{"s":"m","t":"2023-10-08","r":44},{"s":"m","t":"2023-10-15","r":46},{"s":"m","t":"2023-10-24","r":47},{"s":"m","t":"2023-10-30","r":48},{"s":"m","t":"2023-11-05","r":49},{"s":"m","t":"2023-11-11","r":46},{"s":"m","t":"2023-11-19","r":44},{"s":"m","t":"2023-11-27","r":47},{"s":"m","t":"2023-12-10","r":47},{"s":"m","t":"2023-12-17","r":48},{"s":"m","t":"2023-12-30","r":49},{"s":"m","t":"2024-01-13","r":49},{"s":"m","t":"2024-01-20","r":50},{"s":"m","t":"2024-01-28","r":50},{"s":"m","t":"2024-02-02","r":48},{"s":"m","t":"2024-02-07","r":47},{"s":"m","t":"2024-02-12","r":47},{"s":"m","t":"2024-02-19","r":49},{"s":"m","t":"2024-02-24","r":49},{"s":"m","t":"2024-03-10","r":47},{"s":"m","t":"2024-03-30","r":47},{"s":"m","t":"2024-04-08","r":48},{"s":"m","t":"2024-04-15","r":50},{"s":"m","t":"2024-04-23","r":52},{"s":"m","t":"2024-05-05","r":52},{"s":"m","t":"2024-05-12","r":53},{"s":"m","t":"2024-05-18","r":51},{"s":"m","t":"2024-05-23","r":49},{"s":"m","t":"2024-06-04","r":48},{"s":"m","t":"2024-06-19","r":46},{"s":"m","t":"2024-07-04","r":45},{"s":"m","t":"2024-07-19","r":44},{"s":"m","t":"2024-08-03","r":45},{"s":"m","t":"2024-08-18","r":46},{"s":"m","t":"2024-09-02","r":45},{"s":"m","t":"2024-09-22","r":44},{"s":"m","t":"2024-10-12","r":46},{"s":"m","t":"2024-11-01","r":47},{"s":"m","t":"2024-11-21","r":46},{"s":"m","t":"2024-12-11","r":45},{"s":"m","t":"2024-12-31","r":46},{"s":"m","t":"2025-01-20","r":44},{"s":"m","t":"2025-02-09","r":43},{"s":"m","t":"2025-03-01","r":42},{"s":"m","t":"2025-03-21","r":41},{"s":"m","t":"2025-04-10","r":42},{"s":"m","t":"2025-04-30","r":44},{"s":"m","t":"2025-05-20","r":45},{"s":"m","t":"2025-06-09","r":44},{"s":"m","t":"2025-06-23","r":44},{"s":"m","t":"2025-07-01","r":46},{"s":"m","t":"2025-07-24","r":46},{"s":"m","t":"2025-08-01","r":45},{"s":"m","t":"2025-08-24","r":45},{"s":"m","t":"2025-09-01","r":47},{"s":"m","t":"2025-09-23","r":47},{"s":"m","t":"2025-10-01","r":46},{"s":"m","t":"2025-10-24","r":46},{"s":"m","t":"2025-11-01","r":48},{"s":"m","t":"2025-11-23","r":48},{"s":"m","t":"2025-12-01","r":47},{"s":"m","t":"2025-12-24","r":47},{"s":"m","t":"2026-01-01","r":46},{"s":"m","t":"2026-01-27","r":46},{"s":"m","t":"2026-02-04","r":47},{"s":"m","t":"2026-03-22","r":47},
{"s":"n","t":"2023-04-01","r":50},{"s":"n","t":"2023-05-05","r":50},{"s":"n","t":"2023-05-14","r":51},{"s":"n","t":"2023-06-04","r":51},{"s":"n","t":"2023-06-11","r":49},{"s":"n","t":"2023-06-20","r":50},{"s":"n","t":"2023-06-27","r":52},{"s":"n","t":"2023-07-04","r":52},{"s":"n","t":"2023-07-11","r":51},{"s":"n","t":"2023-07-18","r":51},{"s":"n","t":"2023-07-26","r":52},{"s":"n","t":"2023-08-09","r":52},{"s":"n","t":"2023-08-14","r":53},{"s":"n","t":"2023-08-27","r":51},{"s":"n","t":"2023-09-03","r":52},{"s":"n","t":"2023-09-10","r":51},{"s":"n","t":"2023-09-17","r":52},{"s":"n","t":"2023-09-24","r":52},{"s":"n","t":"2023-10-01","r":50},{"s":"n","t":"2023-10-08","r":49},{"s":"n","t":"2023-10-15","r":50},{"s":"n","t":"2023-10-22","r":49},{"s":"n","t":"2023-11-05","r":51},{"s":"n","t":"2023-11-20","r":49},{"s":"n","t":"2023-11-25","r":51},{"s":"n","t":"2023-12-20","r":51},{"s":"n","t":"2023-12-30","r":52},{"s":"n","t":"2024-01-13","r":50},{"s":"n","t":"2024-02-02","r":53},{"s":"n","t":"2024-03-03","r":53},{"s":"n","t":"2024-03-10","r":55},{"s":"n","t":"2024-03-24","r":55},{"s":"n","t":"2024-03-30","r":50},{"s":"n","t":"2024-04-07","r":52},{"s":"n","t":"2024-04-15","r":54},{"s":"n","t":"2024-04-25","r":59},{"s":"n","t":"2024-04-30","r":61},{"s":"n","t":"2024-05-06","r":62},{"s":"n","t":"2024-05-13","r":61},{"s":"n","t":"2024-05-20","r":61},{"s":"n","t":"2024-05-27","r":60},{"s":"n","t":"2024-06-02","r":61},{"s":"n","t":"2024-06-09","r":59},{"s":"n","t":"2024-06-23","r":59},{"s":"n","t":"2024-07-01","r":57},{"s":"n","t":"2024-07-13","r":55},{"s":"n","t":"2024-07-24","r":53},{"s":"n","t":"2024-08-03","r":51},{"s":"n","t":"2024-08-18","r":52},{"s":"n","t":"2024-09-02","r":50},{"s":"n","t":"2024-09-22","r":49},{"s":"n","t":"2024-10-12","r":50},{"s":"n","t":"2024-10-27","r":51},{"s":"n","t":"2024-11-11","r":52},{"s":"n","t":"2024-12-01","r":52},{"s":"n","t":"2024-12-16","r":50},{"s":"n","t":"2025-01-10","r":50},{"s":"n","t":"2025-01-25","r":48},{"s":"n","t":"2025-02-04","r":45},{"s":"n","t":"2025-02-14","r":42},{"s":"n","t":"2025-03-01","r":41},{"s":"n","t":"2025-03-15","r":43},{"s":"n","t":"2025-03-22","r":48},{"s":"n","t":"2025-04-01","r":48},{"s":"n","t":"2025-04-06","r":44},{"s":"n","t":"2025-04-15","r":42},{"s":"n","t":"2025-04-30","r":43},{"s":"n","t":"2025-05-22","r":43},{"s":"n","t":"2025-05-30","r":44},{"s":"n","t":"2025-06-23","r":44},{"s":"n","t":"2025-07-01","r":45},{"s":"n","t":"2025-07-24","r":45},{"s":"n","t":"2025-08-01","r":44},{"s":"n","t":"2025-08-24","r":44},{"s":"n","t":"2025-09-01","r":45},{"s":"n","t":"2025-09-23","r":45},{"s":"n","t":"2025-10-01","r":44},{"s":"n","t":"2025-10-24","r":44},{"s":"n","t":"2025-11-01","r":45},{"s":"n","t":"2025-11-23","r":45},{"s":"n","t":"2025-12-01","r":44},{"s":"n","t":"2025-12-24","r":44},{"s":"n","t":"2026-01-01","r":45},{"s":"n","t":"2026-01-27","r":45},{"s":"n","t":"2026-02-04","r":43},{"s":"n","t":"2026-03-22","r":43},
{"s":"o","t":"2023-04-01","r":55},{"s":"o","t":"2023-04-08","r":54},{"s":"o","t":"2023-04-29","r":54},{"s":"o","t":"2023-05-07","r":53},{"s":"o","t":"2023-05-14","r":55},{"s":"o","t":"2023-05-22","r":53},{"s":"o","t":"2023-05-27","r":54},{"s":"o","t":"2023-06-04","r":53},{"s":"o","t":"2023-06-11","r":55},{"s":"o","t":"2023-06-18","r":54},{"s":"o","t":"2023-06-25","r":60},{"s":"o","t":"2023-07-02","r":60},{"s":"o","t":"2023-07-10","r":61},{"s":"o","t":"2023-07-24","r":63},{"s":"o","t":"2023-08-06","r":62},{"s":"o","t":"2023-08-13","r":63},{"s":"o","t":"2023-08-20","r":59},{"s":"o","t":"2023-08-27","r":63},{"s":"o","t":"2023-09-08","r":62},{"s":"o","t":"2023-09-28","r":61},{"s":"o","t":"2023-10-18","r":61},{"s":"o","t":"2023-10-28","r":60},{"s":"o","t":"2023-11-05","r":58},{"s":"o","t":"2023-11-12","r":62},{"s":"o","t":"2023-11-27","r":62},{"s":"o","t":"2023-12-17","r":63},{"s":"o","t":"2023-12-25","r":66},{"s":"o","t":"2023-12-30","r":63},{"s":"o","t":"2024-01-06","r":67},{"s":"o","t":"2024-01-21","r":62},{"s":"o","t":"2024-01-28","r":66},{"s":"o","t":"2024-02-10","r":69},{"s":"o","t":"2024-02-25","r":69},{"s":"o","t":"2024-03-11","r":70},{"s":"o","t":"2024-04-03","r":69},{"s":"o","t":"2024-04-10","r":70},{"s":"o","t":"2024-04-30","r":70},{"s":"o","t":"2024-05-10","r":71},{"s":"o","t":"2024-05-17","r":69},{"s":"o","t":"2024-05-25","r":70},{"s":"o","t":"2024-07-04","r":70},{"s":"o","t":"2024-07-14","r":68},{"s":"o","t":"2024-07-29","r":66},{"s":"o","t":"2024-08-08","r":66},{"s":"o","t":"2024-08-18","r":61},{"s":"o","t":"2024-08-25","r":67},{"s":"o","t":"2024-09-02","r":64},{"s":"o","t":"2024-09-12","r":62},{"s":"o","t":"2024-09-24","r":60},{"s":"o","t":"2024-10-02","r":58},{"s":"o","t":"2024-10-17","r":64},{"s":"o","t":"2024-10-27","r":65},{"s":"o","t":"2024-11-11","r":65},{"s":"o","t":"2024-11-18","r":64},{"s":"o","t":"2024-11-26","r":56},{"s":"o","t":"2024-12-03","r":52},{"s":"o","t":"2024-12-19","r":50},{"s":"o","t":"2025-01-05","r":49},{"s":"o","t":"2025-01-20","r":51},{"s":"o","t":"2025-03-01","r":50},{"s":"o","t":"2025-04-01","r":48},{"s":"o","t":"2025-04-22","r":48},{"s":"o","t":"2025-04-30","r":47},{"s":"o","t":"2025-05-22","r":47},{"s":"o","t":"2025-05-30","r":49},{"s":"o","t":"2025-06-23","r":49},{"s":"o","t":"2025-07-01","r":50},{"s":"o","t":"2025-07-24","r":50},{"s":"o","t":"2025-08-01","r":48},{"s":"o","t":"2025-08-24","r":48},{"s":"o","t":"2025-09-01","r":51},{"s":"o","t":"2025-09-23","r":51},{"s":"o","t":"2025-10-01","r":52},{"s":"o","t":"2025-10-24","r":52},{"s":"o","t":"2025-11-01","r":50},{"s":"o","t":"2025-11-23","r":50},{"s":"o","t":"2025-12-01","r":49},{"s":"o","t":"2025-12-24","r":49},{"s":"o","t":"2026-01-01","r":50},{"s":"o","t":"2026-01-27","r":50},{"s":"o","t":"2026-02-04","r":49},{"s":"o","t":"2026-03-14","r":49},{"s":"o","t":"2026-03-22","r":50},
{"s":"p","t":"2023-04-01","r":62},{"s":"p","t":"2023-04-08","r":61},{"s":"p","t":"2023-04-30","r":61},{"s":"p","t":"2023-05-07","r":60},{"s":"p","t":"2023-05-14","r":58},{"s":"p","t":"2023-05-21","r":61},{"s":"p","t":"2023-05-28","r":58},{"s":"p","t":"2023-06-04","r":63},{"s":"p","t":"2023-06-11","r":62},{"s":"p","t":"2023-06-18","r":64},{"s":"p","t":"2023-08-05","r":64},{"s":"p","t":"2023-08-14","r":62},{"s":"p","t":"2023-08-27","r":61},{"s":"p","t":"2023-09-03","r":62},{"s":"p","t":"2023-09-10","r":63},{"s":"p","t":"2023-09-24","r":58},{"s":"p","t":"2023-10-08","r":56},{"s":"p","t":"2023-10-29","r":56},{"s":"p","t":"2023-11-11","r":54},{"s":"p","t":"2023-11-18","r":54},{"s":"p","t":"2023-11-22","r":49},{"s":"p","t":"2023-11-27","r":49},{"s":"p","t":"2023-12-03","r":50},{"s":"p","t":"2023-12-12","r":49},{"s":"p","t":"2023-12-27","r":49},{"s":"p","t":"2024-01-06","r":48},{"s":"p","t":"2024-01-21","r":48},{"s":"p","t":"2024-01-28","r":47},{"s":"p","t":"2024-02-05","r":46},{"s":"p","t":"2024-02-20","r":44},{"s":"p","t":"2024-03-03","r":43},{"s":"p","t":"2024-04-21","r":43},{"s":"p","t":"2024-04-27","r":44},{"s":"p","t":"2024-05-05","r":47},{"s":"p","t":"2024-06-16","r":47},{"s":"p","t":"2024-06-23","r":48},{"s":"p","t":"2024-06-30","r":49},{"s":"p","t":"2024-07-08","r":47},{"s":"p","t":"2024-07-13","r":46},{"s":"p","t":"2024-07-27","r":46},{"s":"p","t":"2024-08-03","r":45},{"s":"p","t":"2024-08-26","r":45},{"s":"p","t":"2024-09-02","r":46},{"s":"p","t":"2024-10-25","r":46},{"s":"p","t":"2024-11-01","r":45},{"s":"p","t":"2024-11-24","r":45},{"s":"p","t":"2024-12-01","r":46},{"s":"p","t":"2024-12-24","r":46},{"s":"p","t":"2024-12-31","r":44},{"s":"p","t":"2025-01-13","r":44},{"s":"p","t":"2025-01-20","r":43},{"s":"p","t":"2025-02-02","r":43},{"s":"p","t":"2025-02-09","r":42},{"s":"p","t":"2025-02-22","r":42},{"s":"p","t":"2025-03-01","r":41},{"s":"p","t":"2025-03-24","r":41},{"s":"p","t":"2025-04-01","r":40},{"s":"p","t":"2025-04-22","r":40},{"s":"p","t":"2025-04-30","r":41},{"s":"p","t":"2025-05-22","r":41},{"s":"p","t":"2025-05-30","r":40},{"s":"p","t":"2025-06-23","r":40},{"s":"p","t":"2025-07-01","r":41},{"s":"p","t":"2025-07-24","r":41},{"s":"p","t":"2025-08-01","r":40},{"s":"p","t":"2025-08-24","r":40},{"s":"p","t":"2025-09-01","r":41},{"s":"p","t":"2025-09-23","r":41},{"s":"p","t":"2025-10-01","r":40},{"s":"p","t":"2025-10-24","r":40},{"s":"p","t":"2025-11-01","r":41},{"s":"p","t":"2025-11-23","r":41},{"s":"p","t":"2025-12-01","r":40},{"s":"p","t":"2025-12-24","r":40},{"s":"p","t":"2026-01-01","r":41},{"s":"p","t":"2026-01-27","r":41},{"s":"p","t":"2026-02-04","r":42},{"s":"p","t":"2026-03-22","r":42},
{"s":"q","t":"2023-04-01","r":80},{"s":"q","t":"2023-04-08","r":78},{"s":"q","t":"2023-04-23","r":78},{"s":"q","t":"2023-04-30","r":74},{"s":"q","t":"2023-05-14","r":74},{"s":"q","t":"2023-05-28","r":70},{"s":"q","t":"2023-06-04","r":71},{"s":"q","t":"2023-06-11","r":69},{"s":"q","t":"2023-06-18","r":68},{"s":"q","t":"2023-06-25","r":69},{"s":"q","t":"2023-07-02","r":72},{"s":"q","t":"2023-07-08","r":70},{"s":"q","t":"2023-07-22","r":70},{"s":"q","t":"2023-07-29","r":66},{"s":"q","t":"2023-08-05","r":70},{"s":"q","t":"2023-08-12","r":64},{"s":"q","t":"2023-08-21","r":67},{"s":"q","t":"2023-08-27","r":64},{"s":"q","t":"2023-09-03","r":67},{"s":"q","t":"2023-09-10","r":67},{"s":"q","t":"2023-09-20","r":65},{"s":"q","t":"2023-09-26","r":65},{"s":"q","t":"2023-10-03","r":68},{"s":"q","t":"2023-10-10","r":65},{"s":"q","t":"2023-10-15","r":62},{"s":"q","t":"2023-11-06","r":62},{"s":"q","t":"2023-11-11","r":57},{"s":"q","t":"2023-11-27","r":57},{"s":"q","t":"2023-12-03","r":59},{"s":"q","t":"2023-12-12","r":59},{"s":"q","t":"2023-12-19","r":52},{"s":"q","t":"2023-12-24","r":50},{"s":"q","t":"2023-12-30","r":51},{"s":"q","t":"2024-01-06","r":53},{"s":"q","t":"2024-01-14","r":53},{"s":"q","t":"2024-01-26","r":51},{"s":"q","t":"2024-02-09","r":51},{"s":"q","t":"2024-02-19","r":50},{"s":"q","t":"2024-02-26","r":51},{"s":"q","t":"2024-03-03","r":50},{"s":"q","t":"2024-03-10","r":52},{"s":"q","t":"2024-04-03","r":52},{"s":"q","t":"2024-04-09","r":53},{"s":"q","t":"2024-04-20","r":53},{"s":"q","t":"2024-04-28","r":58},{"s":"q","t":"2024-05-03","r":56},{"s":"q","t":"2024-05-11","r":56},{"s":"q","t":"2024-05-20","r":62},{"s":"q","t":"2024-05-28","r":61},{"s":"q","t":"2024-06-14","r":58},{"s":"q","t":"2024-07-04","r":55},{"s":"q","t":"2024-07-24","r":54},{"s":"q","t":"2024-08-13","r":56},{"s":"q","t":"2024-09-02","r":57},{"s":"q","t":"2024-09-27","r":57},{"s":"q","t":"2024-10-05","r":61},{"s":"q","t":"2024-10-20","r":58},{"s":"q","t":"2024-11-01","r":60},{"s":"q","t":"2024-11-21","r":59},{"s":"q","t":"2024-12-11","r":60},{"s":"q","t":"2024-12-31","r":61},{"s":"q","t":"2025-01-20","r":59},{"s":"q","t":"2025-02-09","r":57},{"s":"q","t":"2025-03-01","r":56},{"s":"q","t":"2025-03-21","r":53},{"s":"q","t":"2025-04-10","r":54},{"s":"q","t":"2025-04-30","r":52},{"s":"q","t":"2025-05-22","r":52},{"s":"q","t":"2025-05-30","r":54},{"s":"q","t":"2025-06-23","r":54},{"s":"q","t":"2025-07-01","r":53},{"s":"q","t":"2025-07-24","r":53},{"s":"q","t":"2025-08-01","r":55},{"s":"q","t":"2025-08-24","r":55},{"s":"q","t":"2025-09-01","r":54},{"s":"q","t":"2025-09-23","r":54},{"s":"q","t":"2025-10-01","r":56},{"s":"q","t":"2025-10-24","r":56},{"s":"q","t":"2025-11-01","r":55},{"s":"q","t":"2025-11-23","r":55},{"s":"q","t":"2025-12-01","r":53},{"s":"q","t":"2025-12-24","r":53},{"s":"q","t":"2026-01-01","r":52},{"s":"q","t":"2026-01-27","r":52},{"s":"q","t":"2026-02-04","r":50},{"s":"q","t":"2026-03-14","r":50},{"s":"q","t":"2026-03-22","r":49},
{"s":"r","t":"2023-04-01","r":79},{"s":"r","t":"2023-04-15","r":79},{"s":"r","t":"2023-04-30","r":81},{"s":"r","t":"2023-05-07","r":79},{"s":"r","t":"2023-05-14","r":80},{"s":"r","t":"2023-05-21","r":79},{"s":"r","t":"2023-05-28","r":80},{"s":"r","t":"2023-06-04","r":80},{"s":"r","t":"2023-06-18","r":78},{"s":"r","t":"2023-06-25","r":76},{"s":"r","t":"2023-07-01","r":70},{"s":"r","t":"2023-07-15","r":71},{"s":"r","t":"2023-07-29","r":70},{"s":"r","t":"2023-08-12","r":67},{"s":"r","t":"2023-08-27","r":68},{"s":"r","t":"2023-09-10","r":72},{"s":"r","t":"2023-09-24","r":74},{"s":"r","t":"2023-10-01","r":71},{"s":"r","t":"2023-10-08","r":73},{"s":"r","t":"2023-10-23","r":73},{"s":"r","t":"2023-11-02","r":75},{"s":"r","t":"2023-11-12","r":72},{"s":"r","t":"2023-11-27","r":72},{"s":"r","t":"2023-12-12","r":71},{"s":"r","t":"2023-12-22","r":68},{"s":"r","t":"2024-01-01","r":65},{"s":"r","t":"2024-01-11","r":67},{"s":"r","t":"2024-01-21","r":66},{"s":"r","t":"2024-01-31","r":68},{"s":"r","t":"2024-02-15","r":67},{"s":"r","t":"2024-02-25","r":66},{"s":"r","t":"2024-03-02","r":56},{"s":"r","t":"2024-03-10","r":56},{"s":"r","t":"2024-03-17","r":57},{"s":"r","t":"2024-03-22","r":53},{"s":"r","t":"2024-03-25","r":56},{"s":"r","t":"2024-04-04","r":56},{"s":"r","t":"2024-04-09","r":55},{"s":"r","t":"2024-04-20","r":53},{"s":"r","t":"2024-04-28","r":55},{"s":"r","t":"2024-05-01","r":49},{"s":"r","t":"2024-05-08","r":46},{"s":"r","t":"2024-05-22","r":44},{"s":"r","t":"2024-06-02","r":44},{"s":"r","t":"2024-06-12","r":45},{"s":"r","t":"2024-06-23","r":44},{"s":"r","t":"2024-07-08","r":42},{"s":"r","t":"2024-07-13","r":43},{"s":"r","t":"2024-08-03","r":44},{"s":"r","t":"2024-08-23","r":44},{"s":"r","t":"2024-09-12","r":42},{"s":"r","t":"2024-09-27","r":41},{"s":"r","t":"2024-10-12","r":43},{"s":"r","t":"2024-10-27","r":45},{"s":"r","t":"2024-11-21","r":45},{"s":"r","t":"2024-12-11","r":47},{"s":"r","t":"2024-12-31","r":48},{"s":"r","t":"2025-01-20","r":46},{"s":"r","t":"2025-02-09","r":47},{"s":"r","t":"2025-03-01","r":46},{"s":"r","t":"2025-03-21","r":45},{"s":"r","t":"2025-04-10","r":47},{"s":"r","t":"2025-04-30","r":46},{"s":"r","t":"2025-05-22","r":46},{"s":"r","t":"2025-05-30","r":47},{"s":"r","t":"2025-06-23","r":47},{"s":"r","t":"2025-07-01","r":45},{"s":"r","t":"2025-07-24","r":45},{"s":"r","t":"2025-08-01","r":47},{"s":"r","t":"2025-08-24","r":47},{"s":"r","t":"2025-09-01","r":46},{"s":"r","t":"2025-09-23","r":46},{"s":"r","t":"2025-10-01","r":48},{"s":"r","t":"2025-10-24","r":48},{"s":"r","t":"2025-11-01","r":47},{"s":"r","t":"2025-11-23","r":47},{"s":"r","t":"2025-12-01","r":46},{"s":"r","t":"2025-12-24","r":46},{"s":"r","t":"2026-01-01","r":47},{"s":"r","t":"2026-01-27","r":47},{"s":"r","t":"2026-02-04","r":46},{"s":"r","t":"2026-03-22","r":46},
{"s":"s","t":"2023-04-01","r":97},{"s":"s","t":"2023-04-08","r":95},{"s":"s","t":"2023-04-15","r":94},{"s":"s","t":"2023-04-23","r":94},{"s":"s","t":"2023-04-30","r":95},{"s":"s","t":"2023-05-08","r":98},{"s":"s","t":"2023-05-14","r":95},{"s":"s","t":"2023-05-21","r":98},{"s":"s","t":"2023-05-26","r":98},{"s":"s","t":"2023-06-06","r":99},{"s":"s","t":"2023-06-11","r":99},{"s":"s","t":"2023-06-18","r":98},{"s":"s","t":"2023-07-08","r":98},{"s":"s","t":"2023-07-17","r":97},{"s":"s","t":"2023-07-29","r":97},{"s":"s","t":"2023-08-07","r":96},{"s":"s","t":"2023-09-03","r":96},{"s":"s","t":"2023-09-17","r":94},{"s":"s","t":"2023-09-24","r":95},{"s":"s","t":"2023-10-01","r":94},{"s":"s","t":"2023-10-08","r":95},{"s":"s","t":"2023-10-14","r":94},{"s":"s","t":"2023-10-20","r":95},{"s":"s","t":"2023-10-29","r":95},{"s":"s","t":"2023-11-05","r":98},{"s":"s","t":"2023-11-13","r":97},{"s":"s","t":"2023-11-20","r":97},{"s":"s","t":"2023-11-27","r":96},{"s":"s","t":"2023-12-04","r":94},{"s":"s","t":"2023-12-11","r":95},{"s":"s","t":"2023-12-18","r":95},{"s":"s","t":"2023-12-25","r":94},{"s":"s","t":"2024-01-06","r":94},{"s":"s","t":"2024-01-15","r":86},{"s":"s","t":"2024-01-21","r":82},{"s":"s","t":"2024-01-28","r":83},{"s":"s","t":"2024-02-04","r":83},{"s":"s","t":"2024-02-11","r":84},{"s":"s","t":"2024-02-18","r":81},{"s":"s","t":"2024-02-25","r":79},{"s":"s","t":"2024-03-09","r":79},{"s":"s","t":"2024-03-17","r":80},{"s":"s","t":"2024-03-30","r":80},{"s":"s","t":"2024-04-08","r":79},{"s":"s","t":"2024-05-11","r":79},{"s":"s","t":"2024-05-20","r":80},{"s":"s","t":"2024-05-26","r":73},{"s":"s","t":"2024-06-09","r":73},{"s":"s","t":"2024-06-23","r":65},{"s":"s","t":"2024-07-07","r":63},{"s":"s","t":"2024-07-14","r":67},{"s":"s","t":"2024-07-21","r":64},{"s":"s","t":"2024-07-27","r":67},{"s":"s","t":"2024-08-03","r":67},{"s":"s","t":"2024-08-19","r":69},{"s":"s","t":"2024-08-26","r":68},{"s":"s","t":"2024-09-04","r":65},{"s":"s","t":"2024-09-13","r":64},{"s":"s","t":"2024-09-27","r":65},{"s":"s","t":"2024-10-05","r":66},{"s":"s","t":"2024-10-20","r":68},{"s":"s","t":"2024-10-27","r":66},{"s":"s","t":"2024-11-11","r":65},{"s":"s","t":"2024-12-01","r":66},{"s":"s","t":"2024-12-16","r":67},{"s":"s","t":"2024-12-26","r":73},{"s":"s","t":"2025-01-05","r":79},{"s":"s","t":"2025-01-20","r":80},{"s":"s","t":"2025-01-28","r":81},{"s":"s","t":"2025-02-09","r":81},{"s":"s","t":"2025-02-17","r":83},{"s":"s","t":"2025-02-27","r":80},{"s":"s","t":"2025-03-07","r":77},{"s":"s","t":"2025-03-15","r":77},{"s":"s","t":"2025-03-23","r":75},{"s":"s","t":"2025-03-31","r":75},{"s":"s","t":"2025-04-08","r":73},{"s":"s","t":"2025-04-16","r":74},{"s":"s","t":"2025-04-28","r":71},{"s":"s","t":"2025-05-10","r":71},{"s":"s","t":"2025-05-25","r":72},{"s":"s","t":"2025-06-04","r":71},{"s":"s","t":"2025-06-11","r":68},{"s":"s","t":"2025-06-19","r":72},{"s":"s","t":"2025-07-09","r":72},{"s":"s","t":"2025-07-14","r":70},{"s":"s","t":"2025-07-24","r":70},{"s":"s","t":"2025-08-03","r":73},{"s":"s","t":"2025-08-10","r":75},{"s":"s","t":"2025-08-20","r":79},{"s":"s","t":"2025-08-25","r":77},{"s":"s","t":"2025-09-01","r":82},{"s":"s","t":"2025-09-07","r":72},{"s":"s","t":"2025-09-15","r":69},{"s":"s","t":"2025-09-27","r":69},{"s":"s","t":"2025-10-07","r":71},{"s":"s","t":"2025-10-17","r":70},{"s":"s","t":"2025-11-01","r":66},{"s":"s","t":"2025-11-08","r":67},{"s":"s","t":"2025-11-19","r":62},{"s":"s","t":"2025-11-26","r":58},{"s":"s","t":"2025-12-06","r":53},{"s":"s","t":"2025-12-11","r":53},{"s":"s","t":"2025-12-19","r":56},{"s":"s","t":"2025-12-26","r":56},{"s":"s","t":"2026-01-03","r":53},{"s":"s","t":"2026-01-13","r":53},{"s":"s","t":"2026-01-20","r":51},{"s":"s","t":"2026-01-30","r":49},{"s":"s","t":"2026-02-14","r":49},{"s":"s","t":"2026-03-01","r":49},{"s":"s","t":"2026-03-22","r":48},
{"s":"t","t":"2024-07-20","r":110},{"s":"t","t":"2024-08-04","r":105},{"s":"t","t":"2024-08-12","r":104},{"s":"t","t":"2024-08-19","r":101},{"s":"t","t":"2024-08-26","r":100},{"s":"t","t":"2024-09-02","r":98},{"s":"t","t":"2024-09-09","r":95},{"s":"t","t":"2024-09-21","r":91},{"s":"t","t":"2024-09-28","r":92},{"s":"t","t":"2024-10-05","r":92},{"s":"t","t":"2024-10-13","r":100},{"s":"t","t":"2024-10-20","r":98},{"s":"t","t":"2024-10-27","r":92},{"s":"t","t":"2024-11-10","r":84},{"s":"t","t":"2024-11-17","r":84},{"s":"t","t":"2024-11-25","r":85},{"s":"t","t":"2024-12-02","r":82},{"s":"t","t":"2024-12-09","r":81},{"s":"t","t":"2024-12-14","r":81},{"s":"t","t":"2024-12-21","r":78},{"s":"t","t":"2024-12-29","r":74},{"s":"t","t":"2025-01-03","r":74},{"s":"t","t":"2025-01-12","r":75},{"s":"t","t":"2025-01-19","r":72},{"s":"t","t":"2025-01-26","r":68},{"s":"t","t":"2025-02-02","r":66},{"s":"t","t":"2025-02-10","r":68},{"s":"t","t":"2025-02-17","r":70},{"s":"t","t":"2025-02-24","r":70},{"s":"t","t":"2025-03-10","r":66},{"s":"t","t":"2025-03-17","r":70},{"s":"t","t":"2025-03-24","r":67},{"s":"t","t":"2025-03-30","r":69},{"s":"t","t":"2025-04-06","r":57},{"s":"t","t":"2025-04-15","r":57},{"s":"t","t":"2025-04-22","r":59},{"s":"t","t":"2025-05-02","r":50},{"s":"t","t":"2025-05-08","r":49},{"s":"t","t":"2025-05-15","r":47},{"s":"t","t":"2025-06-09","r":47},{"s":"t","t":"2025-06-24","r":46},{"s":"t","t":"2025-07-01","r":48},{"s":"t","t":"2025-07-09","r":47},{"s":"t","t":"2025-07-19","r":45},{"s":"t","t":"2025-07-29","r":47},{"s":"t","t":"2025-08-18","r":46},{"s":"t","t":"2025-08-24","r":46},{"s":"t","t":"2025-09-01","r":48},{"s":"t","t":"2025-09-10","r":48},{"s":"t","t":"2025-09-17","r":47},{"s":"t","t":"2025-09-24","r":47},{"s":"t","t":"2025-10-01","r":45},{"s":"t","t":"2025-10-10","r":45},{"s":"t","t":"2025-10-17","r":44},{"s":"t","t":"2025-10-24","r":44},{"s":"t","t":"2025-11-01","r":46},{"s":"t","t":"2025-11-09","r":46},{"s":"t","t":"2025-11-16","r":45},{"s":"t","t":"2025-11-23","r":45},{"s":"t","t":"2025-12-01","r":44},{"s":"t","t":"2025-12-09","r":44},{"s":"t","t":"2025-12-16","r":42},{"s":"t","t":"2025-12-24","r":42},{"s":"t","t":"2026-01-01","r":43},{"s":"t","t":"2026-01-08","r":43},{"s":"t","t":"2026-01-15","r":45},{"s":"t","t":"2026-01-27","r":45},{"s":"t","t":"2026-02-04","r":44},{"s":"t","t":"2026-02-21","r":44},{"s":"t","t":"2026-03-01","r":45},{"s":"t","t":"2026-03-22","r":45}
]},
"mark": {"type": "line", "strokeWidth": 8, "clip": true, "strokeJoin": "round"},
"encoding": {
"x": {"field": "t", "type": "temporal",
 "scale": {"type": "utc", "domain": [{"year": 2023, "month": 4, "date": 1, "utc": true}, {"year": 2026, "month": 3, "date": 22, "utc": true}]},
 "axis": {"title": null, "format": "%b %y",
  "values": [{"year":2023,"month":4,"date":1,"utc":true},{"year":2023,"month":7,"date":1,"utc":true},{"year":2023,"month":10,"date":1,"utc":true},{"year":2024,"month":1,"date":1,"utc":true},{"year":2024,"month":4,"date":1,"utc":true},{"year":2024,"month":7,"date":1,"utc":true},{"year":2024,"month":10,"date":1,"utc":true},{"year":2025,"month":1,"date":1,"utc":true},{"year":2025,"month":4,"date":1,"utc":true},{"year":2025,"month":7,"date":1,"utc":true},{"year":2025,"month":10,"date":1,"utc":true},{"year":2026,"month":1,"date":1,"utc":true}],
  "grid": false, "domainColor": "#000000", "domainWidth": 3.5, "tickColor": "#000000", "tickWidth": 2, "tickSize": 18,
  "labelFont": "Inter", "labelFontSize": 51, "labelColor": "#000000", "labelPadding": 22, "labelOverlap": false, "labelFlush": false, "labelBound": false}},
"y": {"field": "r", "type": "quantitative",
 "scale": {"domain": [15, 105], "reverse": true, "nice": false, "zero": false},
 "axis": {"title": "Market cap rank", "titleAngle": 0, "titleX": -135, "titleY": -77, "titleAlign": "left", "titleBaseline": "alphabetic",
  "titleFont": "Inter", "titleFontSize": 50, "titleFontWeight": "normal", "titleColor": "#000000",
  "values": [15, 25, 35, 45, 55, 65, 75, 85, 95, 105],
  "grid": true, "gridColor": "#dcdcdc", "gridWidth": 3,
  "domainColor": "#000000", "domainWidth": 2, "tickColor": "#000000", "tickWidth": 2, "tickSize": 18,
  "labelFont": "Inter", "labelFontSize": 50, "labelColor": "#000000", "labelPadding": 33}},
"color": {"field": "s", "type": "nominal", "legend": null,
 "scale": {"domain": ["t","s","r","q","o","m","l","b","k","j","d","n","p","f","i","g","c","e","a","h"],
  "range": ["#a39bb8","#b4acc6","#c8c2d4","#aba2be","#dddae4","#cbc5d7","#d5d1de","#bdb6cc","#8a7ca5","#8476a0","#9a8db0","#7b6c96","#6f6189","#7a6b93","#6b5d84","#73648d","#65577a","#5c4e71","#554868","#4e4263"]}}
}
}
